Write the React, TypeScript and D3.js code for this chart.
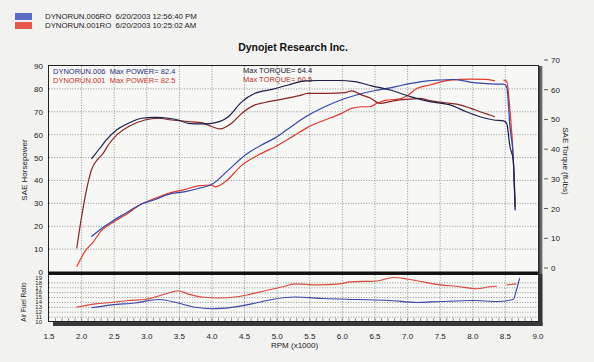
import React from 'react'
import * as d3 from 'd3'

// run 006 (blue) and run 001 (red)
const tq006Rpm = [2.15, 2.28, 2.38, 2.54, 2.72, 2.92, 3.13, 3.33, 3.48, 3.64, 3.84, 4.0, 4.25, 4.46, 4.66, 4.92, 5.17, 5.43, 5.63, 5.94, 6.19, 6.45, 6.73, 7.04, 7.34, 7.65, 7.9, 8.11, 8.32, 8.47, 8.52, 8.57, 8.62, 8.65]
const tq006 = [36.7, 40.3, 43.1, 46.5, 48.7, 50.4, 50.7, 50.4, 49.8, 48.7, 48.5, 48.7, 50.9, 56.0, 58.8, 60.1, 61.6, 63.0, 63.1, 63.1, 62.7, 61.3, 59.9, 57.7, 56.0, 54.9, 52.6, 50.9, 49.8, 49.5, 48.7, 40.8, 36.4, 20.6]

const tq001Rpm = [1.925, 2.0, 2.08, 2.15, 2.26, 2.33, 2.41, 2.54, 2.72, 2.97, 3.18, 3.38, 3.64, 3.84, 3.94, 4.12, 4.3, 4.46, 4.66, 4.81, 5.02, 5.32, 5.48, 5.78, 6.04, 6.14, 6.3, 6.42, 6.58, 6.73, 6.88, 7.04, 7.19, 7.34, 7.5, 7.65, 7.8, 7.96, 8.11, 8.26, 8.34]
const tq001 = [6.6, 17.3, 26.8, 33.0, 36.9, 38.6, 41.4, 44.8, 47.6, 49.8, 50.4, 49.8, 49.3, 48.9, 48.1, 46.8, 48.7, 52.1, 54.9, 55.7, 56.6, 57.9, 58.8, 58.8, 59.0, 59.6, 58.2, 57.3, 55.4, 56.0, 56.6, 56.8, 57.1, 56.3, 55.8, 55.4, 54.9, 53.8, 52.6, 51.5, 50.9]

const hp006Rpm = [2.15, 2.31, 2.46, 2.67, 2.92, 3.13, 3.33, 3.59, 3.79, 4.0, 4.25, 4.51, 4.76, 4.97, 5.17, 5.43, 5.73, 6.04, 6.3, 6.5, 6.68, 6.93, 7.19, 7.45, 7.7, 7.86, 8.01, 8.16, 8.32, 8.47, 8.52, 8.57, 8.62, 8.65]
const hp006 = [15.4, 19.1, 22.0, 25.6, 29.7, 31.7, 33.9, 35.1, 36.5, 38.3, 44.5, 51.1, 55.5, 58.6, 62.6, 67.7, 72.2, 75.8, 78.0, 79.3, 80.2, 81.7, 83.1, 83.8, 84.1, 83.5, 82.7, 82.4, 82.1, 82.1, 80.9, 63.4, 50.0, 27.0]

const hp001Rpm = [1.925, 2.05, 2.18, 2.31, 2.46, 2.67, 2.92, 3.13, 3.33, 3.59, 3.79, 4.0, 4.05, 4.2, 4.46, 4.71, 5.02, 5.27, 5.48, 5.73, 5.99, 6.14, 6.3, 6.42, 6.53, 6.68, 6.83, 6.99, 7.14, 7.34, 7.65, 7.96, 8.21, 8.34, 8.4, 8.47, 8.52, 8.57, 8.62, 8.65]
const hp001 = [2.3, 8.9, 13.2, 18.3, 21.3, 24.9, 29.7, 32.2, 34.4, 36.1, 37.6, 38.0, 37.2, 39.4, 46.7, 51.1, 55.5, 59.8, 63.4, 66.4, 69.3, 71.5, 72.2, 72.2, 73.7, 75.1, 75.4, 76.9, 80.2, 81.7, 83.8, 84.3, 84.2, 83.5, NaN, 83.8, 83.2, 70.7, 50.0, 27.0]

const afr006Rpm = [2.15, 2.46, 2.82, 3.18, 3.48, 3.74, 4.0, 4.3, 4.61, 4.92, 5.27, 5.71, 6.22, 6.73, 7.14, 7.5, 8.01, 8.37, 8.62, 8.67, 8.72]
const afr006 = [12.9, 13.5, 13.9, 14.6, 13.9, 13.0, 12.7, 13.0, 13.7, 14.6, 15.1, 14.8, 14.6, 14.4, 14.0, 14.2, 14.4, 14.2, 14.6, 16.6, 19.0]

const afr001Rpm = [1.92, 2.21, 2.46, 2.72, 2.97, 3.18, 3.38, 3.48, 3.64, 3.84, 4.1, 4.35, 4.56, 4.81, 5.12, 5.27, 5.61, 5.96, 6.12, 6.53, 6.78, 6.99, 7.24, 7.5, 7.75, 8.06, 8.26, 8.37, 8.45, 8.52, 8.67]
const afr001 = [13.0, 13.7, 14.0, 14.4, 14.6, 15.3, 16.1, 16.4, 15.7, 15.1, 14.9, 15.1, 15.6, 16.4, 17.3, 17.8, 17.6, 17.8, 18.2, 18.4, 19.1, 18.8, 18.2, 17.6, 17.3, 16.8, 17.2, 17.3, NaN, 17.6, 17.8]

const rpmTicks = [1.5, 2.0, 2.5, 3.0, 3.5, 4.0, 4.5, 5.0, 5.5, 6.0, 6.5, 7.0, 7.5, 8.0, 8.5, 9.0]
const hpTicks = [0, 10, 20, 30, 40, 50, 60, 70, 80, 90]
const tqTicks = [0, 10, 20, 30, 40, 50, 60, 70]
const afrTicks = [10, 11, 12, 13, 14, 15, 16, 17, 18, 19]

const runs = [
  { name: 'DYNORUN.006RO', stamp: '6/20/2003 12:56:40 PM', swatch: '#5b6bc4' },
  { name: 'DYNORUN.001RO', stamp: '6/20/2003 10:25:02 AM', swatch: '#e8554a' },
]

const sp = '\u00a0\u00a0'
const zip = (a: number[], b: number[]) => a.map((v, i) => [v, b[i]] as [number, number])

const DynoChart = () => {
  const svgRef = React.useRef<SVGSVGElement>(null)
  const W = 594
  const H = 362

  React.useEffect(() => {
    const svg = d3.select(svgRef.current)
    svg.selectAll('*').remove()
    const font = '"Liberation Sans", Arial, sans-serif'

    const x = d3.scaleLinear().domain([1.5, 9.0]).range([49, 538])
    const yHp = d3.scaleLinear().domain([0, 90]).range([272, 66])
    const yTq = d3.scaleLinear().domain([0, 70]).range([268, 60])
    const yAfr = d3.scaleLinear().domain([10, 19]).range([322, 278])

    svg.append('rect').attr('width', W).attr('height', H).attr('fill', '#f2f2f0')

    const defs = svg.append('defs')
    const g1 = defs.append('linearGradient').attr('id', 'shade')
    g1.append('stop').attr('offset', '0%').attr('stop-color', '#222')
    g1.append('stop').attr('offset', '100%').attr('stop-color', '#888')

    // header legend
    runs.forEach((r, i) => {
      svg.append('rect').attr('x', 15).attr('y', 13 + i * 9).attr('width', 17).attr('height', 7).attr('fill', r.swatch)
      svg.append('text').attr('x', 45).attr('y', 19 + i * 8.5)
        .style('font', `7.8px ${font}`).attr('fill', '#222')
        .text(`${r.name}${sp}${r.stamp}`)
    })

    svg.append('text').attr('x', 293).attr('y', 51).attr('text-anchor', 'middle')
      .style('font', `bold 10.5px ${font}`).attr('fill', '#111')
      .text('Dynojet Research Inc.')

    // frames
    svg.append('rect').attr('x', 48.5).attr('y', 65.5).attr('width', 490).attr('height', 208)
      .attr('fill', '#f7f7f5').attr('stroke', '#222').attr('stroke-width', 1)
    svg.append('rect').attr('x', 48.5).attr('y', 274.5).attr('width', 490).attr('height', 47)
      .attr('fill', '#f7f7f5').attr('stroke', '#222').attr('stroke-width', 1)

    const grid = svg.append('g').attr('stroke', '#7a7a7a').attr('stroke-width', 0.8)
      .attr('stroke-dasharray', '1,1.6')
    rpmTicks.slice(1, -1).forEach((v) => {
      grid.append('line').attr('x1', x(v)).attr('x2', x(v)).attr('y1', 66).attr('y2', 272)
      grid.append('line').attr('x1', x(v)).attr('x2', x(v)).attr('y1', 275).attr('y2', 321)
    })
    hpTicks.slice(1, -1).forEach((v) => {
      grid.append('line').attr('x1', 49).attr('x2', 538).attr('y1', yHp(v)).attr('y2', yHp(v))
    })
    afrTicks.slice(1, -1).forEach((v) => {
      grid.append('line').attr('x1', 49).attr('x2', 538).attr('y1', yAfr(v)).attr('y2', yAfr(v))
    })

    // minor rpm ticks along the bottom
    const minor = d3.range(1.6, 9.0, 0.1)
    svg.append('g').attr('stroke', '#555').attr('stroke-width', 0.6)
      .selectAll('line').data(minor).join('line')
      .attr('x1', (d) => x(d)).attr('x2', (d) => x(d)).attr('y1', 318).attr('y2', 321)

    // heavy borders / shadows
    svg.append('rect').attr('x', 48).attr('y', 271.5).attr('width', 493).attr('height', 3).attr('fill', '#111')
    svg.append('rect').attr('x', 538).attr('y', 66).attr('width', 4.5).attr('height', 208).attr('fill', 'url(#shade)')
    svg.append('rect').attr('x', 538).attr('y', 274).attr('width', 4.5).attr('height', 52).attr('fill', '#333')
    svg.append('rect').attr('x', 53).attr('y', 322).attr('width', 489.5).attr('height', 4).attr('fill', '#3a3a3a')

    // axes text
    const tickFont = `8px ${font}`
    svg.append('g').selectAll('text').data(hpTicks).join('text')
      .attr('x', 43).attr('y', (d) => yHp(d) + 3).attr('text-anchor', 'end')
      .style('font', tickFont).attr('fill', '#222').text((d) => d)
    svg.append('g').selectAll('text').data(tqTicks).join('text')
      .attr('x', 551).attr('y', (d) => yTq(d) + 3)
      .style('font', tickFont).attr('fill', '#222').text((d) => d)
    svg.append('g').attr('stroke', '#333').attr('stroke-width', 0.8)
      .selectAll('line').data(tqTicks).join('line')
      .attr('x1', 544).attr('x2', 548).attr('y1', (d) => yTq(d)).attr('y2', (d) => yTq(d))
    // AFR labels are packed tight on the sheet; small font, stretched sideways
    svg.append('g').selectAll('text').data(afrTicks).join('text')
      .attr('transform', (d) => `translate(42,${yAfr(d) + 1.8}) scale(1.3,1)`)
      .attr('text-anchor', 'end')
      .style('font', `4.6px ${font}`).attr('fill', '#222').text((d) => d)
    svg.append('g').selectAll('text').data(rpmTicks).join('text')
      .attr('x', (d) => x(d)).attr('y', 339).attr('text-anchor', 'middle')
      .style('font', tickFont).attr('fill', '#222').text((d) => d3.format('.1f')(d))

    svg.append('text').attr('x', 271).attr('y', 347.5)
      .style('font', tickFont).attr('fill', '#222').text('RPM (x1000)')
    svg.append('text').attr('transform', 'translate(27,170) rotate(-90)').attr('text-anchor', 'middle')
      .style('font', tickFont).attr('fill', '#222').text('SAE Horsepower')
    svg.append('text').attr('transform', 'translate(26,302) rotate(-90)').attr('text-anchor', 'middle')
      .style('font', `6.5px ${font}`).attr('fill', '#222').text('Air Fuel Ratio')
    svg.append('text').attr('transform', 'translate(563,161) rotate(90)').attr('text-anchor', 'middle')
      .style('font', tickFont).attr('fill', '#222').text('SAE Torque (ft-lbs)')

    // in-plot labels
    const lbl = `7.5px ${font}`
    svg.append('text').attr('x', 53).attr('y', 74).style('font', lbl).attr('fill', '#2a2d80')
      .text(`DYNORUN.006${sp}Max POWER= 82.4`)
    svg.append('text').attr('x', 53).attr('y', 83).style('font', lbl).attr('fill', '#cc3328')
      .text(`DYNORUN.001${sp}Max POWER= 82.5`)
    svg.append('text').attr('x', 243).attr('y', 73).style('font', lbl).attr('fill', '#1a1a30')
      .text('Max TORQUE= 64.4')
    svg.append('text').attr('x', 243).attr('y', 82).style('font', lbl).attr('fill', '#b83228')
      .text('Max TORQUE= 60.5')

    // curves
    const draw = (pts: [number, number][], yS: d3.ScaleLinear<number, number>, color: string, w = 1.2) => {
      const line = d3.line<[number, number]>()
        .defined((d) => !Number.isNaN(d[1]))
        .x((d) => x(d[0])).y((d) => yS(d[1]))
        .curve(d3.curveMonotoneX)
      svg.append('path').attr('d', line(pts)).attr('fill', 'none')
        .attr('stroke', color).attr('stroke-width', w).attr('stroke-linejoin', 'round')
    }

    draw(zip(afr006Rpm, afr006), yAfr, '#3a48a8', 1.1)
    draw(zip(afr001Rpm, afr001), yAfr, '#d94a3c', 1.1)
    draw(zip(hp001Rpm, hp001), yHp, '#e0392e')
    draw(zip(hp006Rpm, hp006), yHp, '#3345a8')
    draw(zip(tq001Rpm, tq001), yTq, '#8a2424')
    draw(zip(tq006Rpm, tq006), yTq, '#1c1e4a')
  }, [])

  return (
    <svg ref={svgRef} width={W} height={H}
      style={{ position: 'absolute', left: 0, top: 0, display: 'block' }} />
  )
}

export default function App() {
  return <DynoChart />
}
